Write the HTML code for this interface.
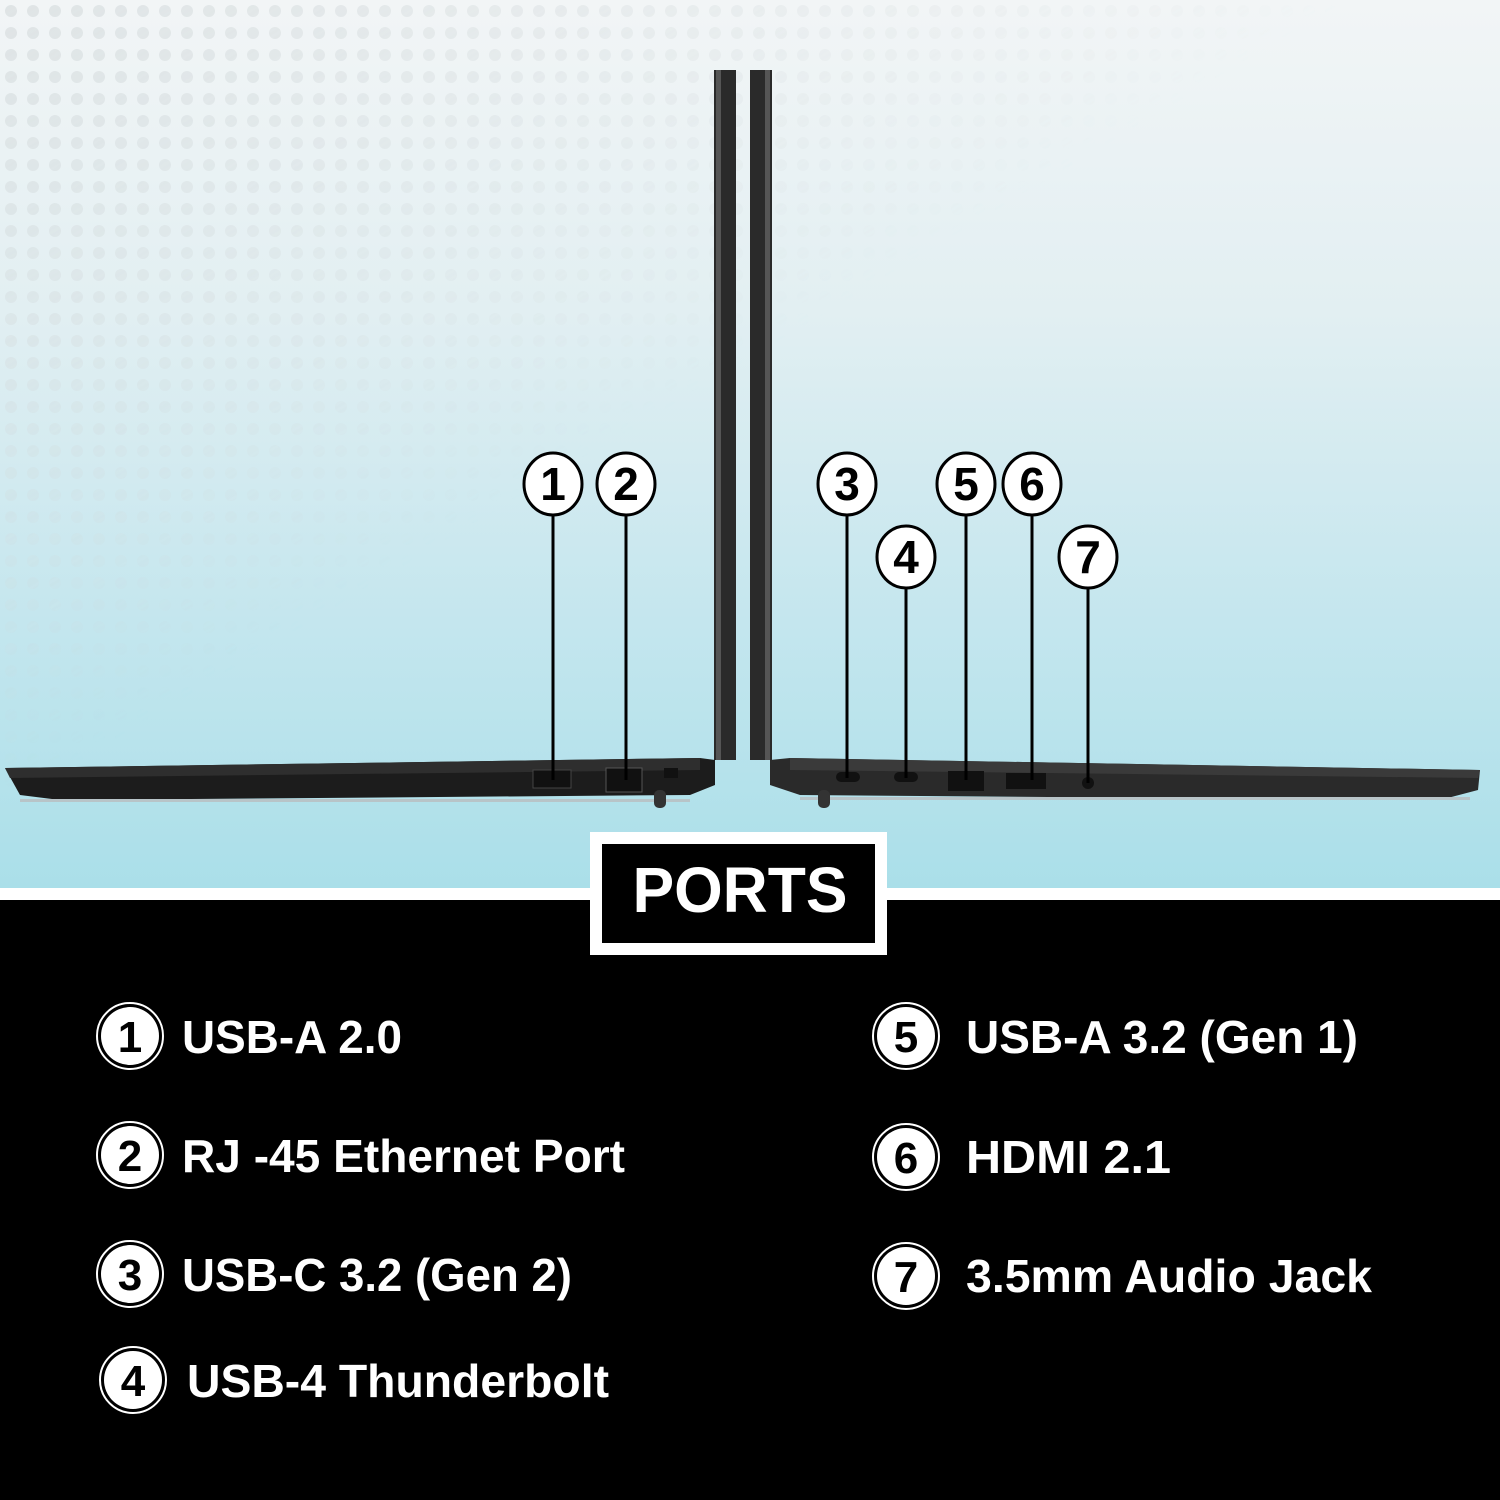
<!DOCTYPE html>
<html><head><meta charset="utf-8"><style>
html,body{margin:0;padding:0;width:1500px;height:1500px;overflow:hidden;background:#000;font-family:"Liberation Sans",sans-serif}
</style></head><body>
<svg width="1500" height="1500" xmlns="http://www.w3.org/2000/svg" style="display:block">
<defs>
<linearGradient id="bg" x1="0" y1="0" x2="0" y2="1">
<stop offset="0" stop-color="#f2f5f6"/><stop offset="0.35" stop-color="#e2eff2"/><stop offset="0.7" stop-color="#c4e6ee"/><stop offset="1" stop-color="#aadfe9"/></linearGradient>
<pattern id="dots" width="22" height="22" patternUnits="userSpaceOnUse"><circle cx="11" cy="11" r="6" fill="#d2d8db" opacity="0.6"/></pattern>
<linearGradient id="fade" x1="0" y1="0" x2="1" y2="1"><stop offset="0" stop-color="#fff" stop-opacity="1"/><stop offset="0.45" stop-color="#fff" stop-opacity="0"/></linearGradient>
<mask id="m"><rect width="1500" height="900" fill="url(#fade)"/></mask>
</defs>
<rect width="1500" height="890" fill="url(#bg)"/>
<rect width="1500" height="890" fill="url(#dots)" mask="url(#m)"/>
<rect y="888" width="1500" height="12" fill="#fff"/>
<rect y="900" width="1500" height="600" fill="#000"/>

<!-- left laptop -->
<rect x="714" y="70" width="22" height="690" fill="#2a2a2a"/>
<rect x="716" y="70" width="5" height="690" fill="#555"/>
<polygon points="5,768 700,758 715,760 715,785 690,795 60,800 20,795" fill="#1c1c1c"/>
<polygon points="5,768 700,758 700,770 10,778" fill="#2e2e2e"/>
<rect x="20" y="799" width="670" height="3" fill="#b8c4c8"/>
<rect x="654" y="790" width="12" height="18" rx="5" fill="#333"/>
<rect x="533" y="770" width="38" height="18" fill="#111" stroke="#444"/>
<rect x="606" y="768" width="36" height="24" fill="#111" stroke="#555"/>
<rect x="664" y="768" width="14" height="10" fill="#111"/>
<!-- right laptop -->
<rect x="750" y="70" width="22" height="690" fill="#2a2a2a"/>
<rect x="765" y="70" width="5" height="690" fill="#555"/>
<polygon points="770,760 790,758 1480,770 1478,790 1440,800 800,795 770,785" fill="#2a2a2a"/>
<polygon points="790,758 1480,770 1478,778 790,770" fill="#3a3a3a"/>
<rect x="800" y="797" width="670" height="3" fill="#b8c4c8"/>
<rect x="818" y="790" width="12" height="18" rx="5" fill="#333"/>
<rect x="836" y="772" width="24" height="10" rx="5" fill="#111"/>
<rect x="894" y="772" width="24" height="10" rx="5" fill="#111"/>
<rect x="948" y="771" width="36" height="20" fill="#111"/>
<rect x="1006" y="773" width="40" height="16" fill="#111"/>
<circle cx="1088" cy="783" r="6" fill="#111"/>

<!-- callouts -->
<g stroke="#000" stroke-width="3" fill="#fff">
<line x1="553" y1="514" x2="553" y2="780"/><line x1="626" y1="514" x2="626" y2="780"/>
<line x1="847" y1="514" x2="847" y2="778"/><line x1="906" y1="588" x2="906" y2="778"/>
<line x1="966" y1="514" x2="966" y2="780"/><line x1="1032" y1="514" x2="1032" y2="780"/>
<line x1="1088" y1="588" x2="1088" y2="783"/>
<ellipse cx="553" cy="484" rx="29" ry="31"/><ellipse cx="626" cy="484" rx="29" ry="31"/>
<ellipse cx="847" cy="484" rx="29" ry="31"/><ellipse cx="906" cy="557" rx="29" ry="31"/>
<ellipse cx="966" cy="484" rx="29" ry="31"/><ellipse cx="1032" cy="484" rx="29" ry="31"/>
<ellipse cx="1088" cy="557" rx="29" ry="31"/>
</g>
<g font-family="Liberation Sans" font-weight="bold" font-size="46" text-anchor="middle" fill="#000">
<text x="553" y="500">1</text><text x="626" y="500">2</text><text x="847" y="500">3</text>
<text x="906" y="573">4</text><text x="966" y="500">5</text><text x="1032" y="500">6</text><text x="1088" y="573">7</text>
</g>

<!-- PORTS box -->
<rect x="590" y="832" width="297" height="123" fill="#fff"/>
<rect x="602" y="844" width="273" height="99" fill="#000"/>
<text x="740" y="912" font-family="Liberation Sans" font-weight="bold" font-size="64" fill="#fff" text-anchor="middle" textLength="215" lengthAdjust="spacingAndGlyphs">PORTS</text>

<!-- legend -->
<g fill="#fff" stroke="#fff">
<g stroke-width="2" fill="none">
<circle cx="130" cy="1036" r="33"/><circle cx="130" cy="1155" r="33"/><circle cx="130" cy="1274" r="33"/><circle cx="133" cy="1380" r="33"/>
<circle cx="906" cy="1036" r="33"/><circle cx="906" cy="1157" r="33"/><circle cx="906" cy="1276" r="33"/>
</g>
<g stroke="none">
<circle cx="130" cy="1036" r="29"/><circle cx="130" cy="1155" r="29"/><circle cx="130" cy="1274" r="29"/><circle cx="133" cy="1380" r="29"/>
<circle cx="906" cy="1036" r="29"/><circle cx="906" cy="1157" r="29"/><circle cx="906" cy="1276" r="29"/>
</g>
</g>
<g font-family="Liberation Sans" font-weight="bold" font-size="44" text-anchor="middle" fill="#000">
<text x="130" y="1052">1</text><text x="130" y="1171">2</text><text x="130" y="1290">3</text><text x="133" y="1396">4</text>
<text x="906" y="1052">5</text><text x="906" y="1173">6</text><text x="906" y="1292">7</text>
</g>
<g font-family="Liberation Sans" font-weight="bold" font-size="46" fill="#fff">
<text x="182" y="1053" textLength="220" lengthAdjust="spacingAndGlyphs">USB-A 2.0</text>
<text x="182" y="1172" textLength="443" lengthAdjust="spacingAndGlyphs">RJ -45 Ethernet Port</text>
<text x="182" y="1291" textLength="390" lengthAdjust="spacingAndGlyphs">USB-C 3.2 (Gen 2)</text>
<text x="187" y="1397" textLength="422" lengthAdjust="spacingAndGlyphs">USB-4 Thunderbolt</text>
<text x="966" y="1053" textLength="392" lengthAdjust="spacingAndGlyphs">USB-A 3.2 (Gen 1)</text>
<text x="966" y="1173" textLength="205" lengthAdjust="spacingAndGlyphs">HDMI 2.1</text>
<text x="966" y="1292" textLength="406" lengthAdjust="spacingAndGlyphs">3.5mm Audio Jack</text>
</g>
</svg>
</body></html>
